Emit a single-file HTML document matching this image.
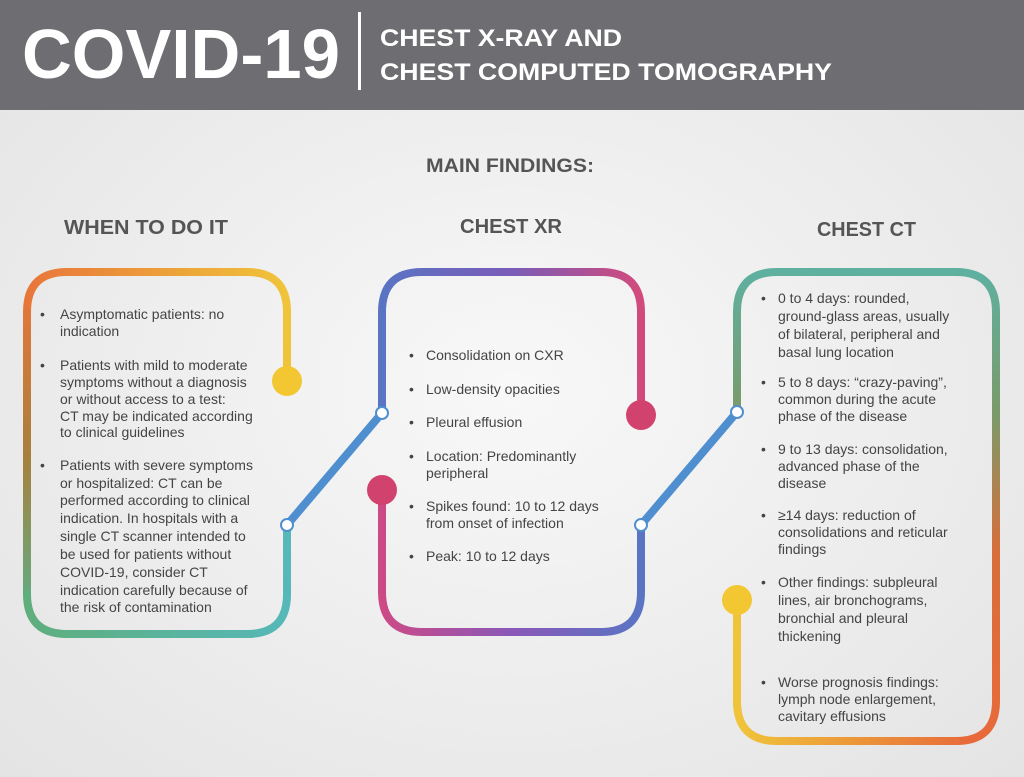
<!DOCTYPE html>
<html><head><meta charset="utf-8"><style>
html,body{margin:0;padding:0;width:1024px;height:777px;overflow:hidden}
svg{display:block}
.t{font-family:"Liberation Sans",sans-serif;font-size:14px;fill:#444}
.h{font-family:"Liberation Sans",sans-serif;font-weight:bold;fill:#555}
</style></head><body>
<svg width="1024" height="777" viewBox="0 0 1024 777" xmlns="http://www.w3.org/2000/svg">
<defs>
<radialGradient id="bg" cx="50%" cy="50%" r="70%">
<stop offset="0" stop-color="#f8f8f8"/><stop offset="1" stop-color="#e4e4e4"/></radialGradient>
<linearGradient id="gL" gradientUnits="userSpaceOnUse" x1="0" y1="290" x2="0" y2="620">
<stop offset="0" stop-color="#e8763a"/><stop offset="0.5" stop-color="#a8803c"/><stop offset="1" stop-color="#5bb08a"/></linearGradient>
<linearGradient id="gLr" x1="0" y1="0" x2="1" y2="0">
<stop offset="0" stop-color="#e8763a"/><stop offset="1" stop-color="#f0c43a"/></linearGradient>
<linearGradient id="gLb" x1="0" y1="0" x2="1" y2="0">
<stop offset="0" stop-color="#5fae7c"/><stop offset="1" stop-color="#56b8b8"/></linearGradient>
<linearGradient id="gM" x1="0" y1="0" x2="1" y2="0">
<stop offset="0" stop-color="#5a74c4"/><stop offset="0.5" stop-color="#7a5cb8"/><stop offset="1" stop-color="#d24a7c"/></linearGradient>
<linearGradient id="gM2" x1="0" y1="0" x2="1" y2="0">
<stop offset="0" stop-color="#cc4a86"/><stop offset="0.5" stop-color="#8a58b8"/><stop offset="1" stop-color="#5a74c4"/></linearGradient>
<linearGradient id="gR" x1="0" y1="0" x2="0" y2="1">
<stop offset="0" stop-color="#5fb0a0"/><stop offset="0.3" stop-color="#7a9a6a"/><stop offset="0.6" stop-color="#d86e3a"/><stop offset="1" stop-color="#e86a3a"/></linearGradient>
<linearGradient id="gRb" x1="0" y1="0" x2="1" y2="0">
<stop offset="0" stop-color="#f0c43a"/><stop offset="1" stop-color="#e8703a"/></linearGradient>
</defs>
<rect width="1024" height="777" fill="url(#bg)"/>
<rect width="1024" height="110" fill="#6e6e72"/>
<text x="22" y="78" font-family="Liberation Sans,sans-serif" font-weight="bold" font-size="70" fill="#fff" textLength="318" lengthAdjust="spacingAndGlyphs">COVID-19</text>
<rect x="358" y="12" width="3" height="78" fill="#fff"/>
<text x="380" y="46" font-family="Liberation Sans,sans-serif" font-weight="bold" font-size="24" fill="#fff" textLength="242" lengthAdjust="spacingAndGlyphs">CHEST X-RAY AND</text>
<text x="380" y="80" font-family="Liberation Sans,sans-serif" font-weight="bold" font-size="24" fill="#fff" textLength="452" lengthAdjust="spacingAndGlyphs">CHEST COMPUTED TOMOGRAPHY</text>
<text class="h" x="426" y="172" font-size="19" textLength="168" lengthAdjust="spacingAndGlyphs">MAIN FINDINGS:</text>
<text class="h" x="64" y="234" font-size="20" textLength="164" lengthAdjust="spacingAndGlyphs">WHEN TO DO IT</text>
<text class="h" x="460" y="233" font-size="20" textLength="102" lengthAdjust="spacingAndGlyphs">CHEST XR</text>
<text class="h" x="817" y="236" font-size="20" textLength="99" lengthAdjust="spacingAndGlyphs">CHEST CT</text>

<g fill="none" stroke-width="8" stroke-linecap="round">
<path d="M287 381 V312 Q287 272 247 272 H67 Q27 272 27 312" stroke="url(#gLr)"/>
<path d="M27 312 V594" stroke="url(#gL)"/>
<path d="M27 594 Q27 634 67 634 H247 Q287 634 287 594 V525" stroke="url(#gLb)"/>
<path d="M287 525 L382 413" stroke="#4f8fd0"/>
<path d="M382 413 V312 Q382 272 422 272 H601 Q641 272 641 312 V415" stroke="url(#gM)"/>
<path d="M382 490 V592 Q382 632 422 632 H601 Q641 632 641 592 V525" stroke="url(#gM2)"/>
<path d="M641 525 L737 412" stroke="#4f8fd0"/>
<path d="M737 412 V312 Q737 272 777 272 H956 Q996 272 996 312 V701 Q996 741 956 741" stroke="url(#gR)"/>
<path d="M956 741 H777 Q737 741 737 701 V600" stroke="url(#gRb)"/>
</g>
<circle cx="287" cy="381" r="15" fill="#f2c732"/>
<circle cx="641" cy="415" r="15" fill="#d2426e"/>
<circle cx="382" cy="490" r="15" fill="#d2426e"/>
<circle cx="737" cy="600" r="15" fill="#f2c732"/>
<g fill="#fff" stroke="#4f8fd0" stroke-width="2">
<circle cx="287" cy="525" r="6"/><circle cx="382" cy="413" r="6"/>
<circle cx="641" cy="525" r="6"/><circle cx="737" cy="412" r="6"/>
</g>

<g class="t">
<text x="40" y="319">•</text>
<text x="60" y="319">Asymptomatic patients: no</text>
<text x="60" y="336">indication</text>
<text x="40" y="370">•</text>
<text x="60" y="370">Patients with mild to moderate</text>
<text x="60" y="387">symptoms without a diagnosis</text>
<text x="60" y="404">or without access to a test:</text>
<text x="60" y="421">CT may be indicated according</text>
<text x="60" y="437">to clinical guidelines</text>
<text x="40" y="470">•</text>
<text x="60" y="470">Patients with severe symptoms</text>
<text x="60" y="488">or hospitalized: CT can be</text>
<text x="60" y="505">performed according to clinical</text>
<text x="60" y="523">indication. In hospitals with a</text>
<text x="60" y="541">single CT scanner intended to</text>
<text x="60" y="559">be used for patients without</text>
<text x="60" y="577">COVID-19, consider CT</text>
<text x="60" y="595">indication carefully because of</text>
<text x="60" y="612">the risk of contamination</text>

<text x="409" y="360">•</text><text x="426" y="360">Consolidation on CXR</text>
<text x="409" y="394">•</text><text x="426" y="394">Low-density opacities</text>
<text x="409" y="427">•</text><text x="426" y="427">Pleural effusion</text>
<text x="409" y="461">•</text><text x="426" y="461">Location: Predominantly</text>
<text x="426" y="478">peripheral</text>
<text x="409" y="511">•</text><text x="426" y="511">Spikes found: 10 to 12 days</text>
<text x="426" y="528">from onset of infection</text>
<text x="409" y="561">•</text><text x="426" y="561">Peak: 10 to 12 days</text>

<text x="761" y="303">•</text><text x="778" y="303">0 to 4 days:  rounded,</text>
<text x="778" y="321">ground-glass areas, usually</text>
<text x="778" y="339">of bilateral, peripheral and</text>
<text x="778" y="357">basal lung location</text>
<text x="761" y="387">•</text><text x="778" y="387">5 to 8 days: “crazy-paving”,</text>
<text x="778" y="404">common during the acute</text>
<text x="778" y="421">phase of the disease</text>
<text x="761" y="454">•</text><text x="778" y="454">9 to 13 days: consolidation,</text>
<text x="778" y="471">advanced phase of the</text>
<text x="778" y="488">disease</text>
<text x="761" y="520">•</text><text x="778" y="520">≥14 days: reduction of</text>
<text x="778" y="537">consolidations and reticular</text>
<text x="778" y="554">findings</text>
<text x="761" y="587">•</text><text x="778" y="587">Other findings: subpleural</text>
<text x="778" y="605">lines, air bronchograms,</text>
<text x="778" y="623">bronchial and pleural</text>
<text x="778" y="641">thickening</text>
<text x="761" y="687">•</text><text x="778" y="687">Worse prognosis findings:</text>
<text x="778" y="704">lymph node enlargement,</text>
<text x="778" y="721">cavitary effusions</text>
</g>
</svg>
</body></html>
